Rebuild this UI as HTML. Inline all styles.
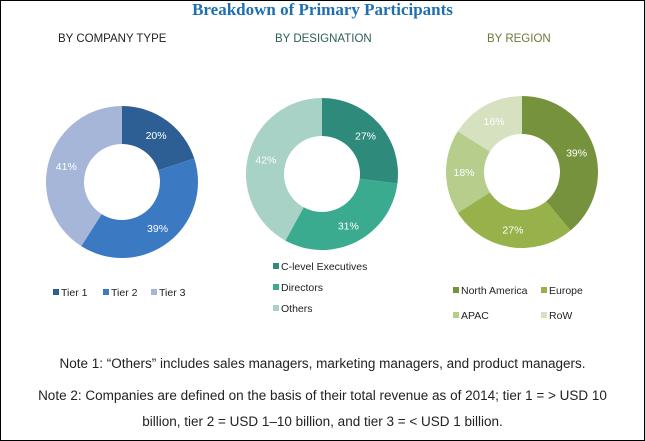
<!DOCTYPE html>
<html><head><meta charset="utf-8"><style>
body{margin:0;background:#fff}
#wrap{position:relative;width:643px;height:439px;border:1px solid #000;background:#fff;font-family:"Liberation Sans",sans-serif;overflow:hidden}
.t{position:absolute;white-space:nowrap}
.note{position:absolute;left:0;width:643px;text-align:center;font-size:13.5px;color:#222;line-height:26px}
</style></head><body>
<div id="wrap">
<div class="t" style="left:0;width:643px;text-align:center;top:-1px;font-family:'Liberation Serif',serif;font-weight:bold;font-size:17px;color:#1f6fb4">Breakdown of Primary Participants</div>
<div class="t" style="left:57px;top:32px;font-size:11.5px;color:#222">BY COMPANY TYPE</div>
<div class="t" style="left:274px;top:32px;font-size:11.5px;color:#2e5e5a">BY DESIGNATION</div>
<div class="t" style="left:486px;top:32px;font-size:11.5px;color:#6f7a3a">BY REGION</div>
<svg id="svg" width="643" height="439" style="position:absolute;left:0;top:0"></svg>
<div class="note" style="top:350px">Note 1: “Others” includes sales managers, marketing managers, and product managers.</div>
<div class="note" style="top:382px">Note 2: Companies are defined on the basis of their total revenue as of 2014; tier 1 = &gt; USD 10<br>billion, tier 2 = USD 1–10 billion, and tier 3 = &lt; USD 1 billion.</div>
</div>
<script>
const companyLabels=["Tier 1","Tier 2","Tier 3"];
const companyValues=[20,39,41];
const designationLabels=["C-level Executives","Directors","Others"];
const designationValues=[27,31,42];
const regionLabels=["North America","Europe","APAC","RoW"];
const regionValues=[39,27,18,16];
const charts=[
 {name:"company",labels:companyLabels,values:companyValues,cx:121,cy:181,colors:["#2d5f95","#3b79c2","#a5b6d8"],legend:[[52,295],[102,295],[150,295]]},
 {name:"designation",labels:designationLabels,values:designationValues,cx:321,cy:173,colors:["#2e8b7b","#3bab8f","#a8d2c6"],legend:[[272,269],[272,290],[272,311]]},
 {name:"region",labels:regionLabels,values:regionValues,cx:521,cy:171,colors:["#77923c","#97b24b","#b6cd8b","#d6e1c0"],legend:[[452,293],[540,293],[452,318],[540,318]]}
];
const svg=document.getElementById('svg');const NS="http://www.w3.org/2000/svg";
const R=76,r=38;
function pt(cx,cy,rad,a){return [cx+rad*Math.sin(a),cy-rad*Math.cos(a)];}
charts.forEach(c=>{
 const tot=c.values.reduce((a,b)=>a+b,0);let a0=0;
 c.values.forEach((v,i)=>{
  const a1=a0+v/tot*2*Math.PI;const lg=(a1-a0)>Math.PI?1:0;
  const p1=pt(c.cx,c.cy,R,a0),p2=pt(c.cx,c.cy,R,a1),p3=pt(c.cx,c.cy,r,a1),p4=pt(c.cx,c.cy,r,a0);
  const p=document.createElementNS(NS,'path');
  p.setAttribute('d',`M${p1}A${R},${R} 0 ${lg} 1 ${p2}L${p3}A${r},${r} 0 ${lg} 0 ${p4}Z`);
  p.setAttribute('fill',c.colors[i]);
  
  
  svg.appendChild(p);
  const m=pt(c.cx,c.cy,58,(a0+a1)/2);
  const t=document.createElementNS(NS,'text');
  t.setAttribute('x',m[0]);t.setAttribute('y',m[1]+4);t.setAttribute('text-anchor','middle');
  t.setAttribute('font-size','10.5');t.setAttribute('fill','#fff');t.setAttribute('font-family','Liberation Sans, sans-serif');
  t.textContent=v+'%';
  
  
  svg.appendChild(t);
  const L=c.legend[i];
  const s=document.createElementNS(NS,'rect');
  s.setAttribute('x',L[0]);s.setAttribute('y',L[1]-7);s.setAttribute('width',6);s.setAttribute('height',6);s.setAttribute('fill',c.colors[i]);
  
  
  svg.appendChild(s);
  const lt=document.createElementNS(NS,'text');
  lt.setAttribute('x',L[0]+8);lt.setAttribute('y',L[1]);lt.setAttribute('font-size','10.5');lt.setAttribute('fill','#222');lt.setAttribute('font-family','Liberation Sans, sans-serif');
  lt.textContent=c.labels[i];
  
  
  svg.appendChild(lt);
  a0=a1;
 });
});
</script>
</body></html>
